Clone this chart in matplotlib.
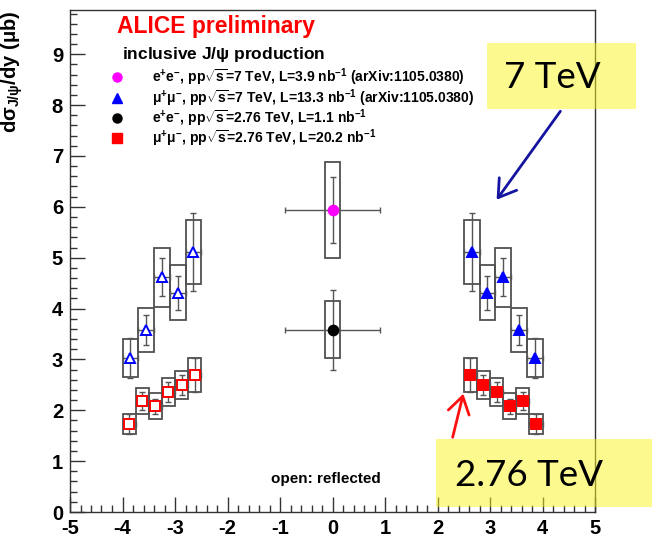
import matplotlib
matplotlib.use('Agg')
import matplotlib.pyplot as plt
from matplotlib.patches import Rectangle, FancyArrowPatch
from matplotlib.lines import Line2D
from matplotlib.ticker import MultipleLocator
import numpy as np

plt.rcParams['font.family'] = ['Liberation Sans', 'DejaVu Sans']
plt.rcParams['font.weight'] = 'bold'
plt.rcParams['axes.unicode_minus'] = False
plt.rcParams['mathtext.fontset'] = 'custom'
plt.rcParams['mathtext.rm'] = 'Liberation Sans:bold'
plt.rcParams['mathtext.it'] = 'Liberation Sans:bold'
plt.rcParams['mathtext.bf'] = 'Liberation Sans:bold'
plt.rcParams['mathtext.sf'] = 'Liberation Sans:bold'

# ---------------- data ----------------
# 7 TeV, mu+mu- (forward rapidity)
y7_mu = [2.65, 2.95, 3.25, 3.55, 3.85]
bw7_mu = 0.3
v7_mu = [5.11, 4.31, 4.62, 3.58, 3.03]
stat7_mu = [0.76, 0.33, 0.38, 0.30, 0.40]
sys7_mu = [0.63, 0.54, 0.58, 0.44, 0.38]

# 2.76 TeV, mu+mu- (forward rapidity)
y276_mu = [2.625, 2.875, 3.125, 3.375, 3.625, 3.875]
bw276_mu = 0.25
v276_mu = [2.69, 2.50, 2.36, 2.08, 2.18, 1.73]
stat276_mu = [0.33, 0.20, 0.19, 0.15, 0.17, 0.20]
sys276_mu = [0.33, 0.28, 0.28, 0.26, 0.26, 0.20]

# e+e- (mid rapidity)
y_ee = [0.0]
halfw_ee = 0.9
v7_ee = [5.94]
stat7_ee = [0.65]
sys7_ee = [0.95]
v276_ee = [3.58]
stat276_ee = [0.79]
sys276_ee = [0.56]

legend_labels = [
    r'e$^{+}$e$^{-}$, pp$\sqrt{s}$=7 TeV, L=3.9 nb$^{-1}$ (arXiv:1105.0380)',
    r'μ$^{+}$μ$^{-}$, pp$\sqrt{s}$=7 TeV, L=13.3 nb$^{-1}$ (arXiv:1105.0380)',
    r'e$^{+}$e$^{-}$, pp$\sqrt{s}$=2.76 TeV, L=1.1 nb$^{-1}$',
    r'μ$^{+}$μ$^{-}$, pp$\sqrt{s}$=2.76 TeV, L=20.2 nb$^{-1}$',
]

W, H = 652, 542
fig = plt.figure(figsize=(W / 100, H / 100), dpi=100)
ax = fig.add_axes([70 / W, 1 - 512 / H, (595 - 70) / W, (512 - 10) / H])

BOXC = '#505050'
ERRC = '#555555'


def draw(x, v, stat, sys, xerr, boxw, marker, color, filled, ms):
    x = np.asarray(x, float)
    v = np.asarray(v, float)
    stat = np.asarray(stat, float)
    sys = np.asarray(sys, float)
    for xi, vi, si in zip(x, v, sys):
        ax.add_patch(Rectangle((xi - boxw / 2, vi - si), boxw, 2 * si,
                               fill=False, ec=BOXC, lw=1.3, zorder=2))
    ax.errorbar(x, v, yerr=stat, xerr=xerr, fmt='none', ecolor=ERRC,
                elinewidth=1.0, capsize=2.2, capthick=1.0, zorder=3)
    ax.plot(x, v, ls='none', marker=marker, ms=ms,
            mfc=color if filled else 'white', mec=color,
            mew=1.4, zorder=4)


# forward (filled) and reflected (open)
draw(y7_mu, v7_mu, stat7_mu, sys7_mu, bw7_mu / 2, bw7_mu, '^', '#0000ff', True, 7.5)
draw(-np.asarray(y7_mu), v7_mu, stat7_mu, sys7_mu, bw7_mu / 2, bw7_mu, '^', '#0000ff', False, 7.5)
draw(y276_mu, v276_mu, stat276_mu, sys276_mu, bw276_mu / 2, bw276_mu, 's', '#ff0000', True, 6.5)
draw(-np.asarray(y276_mu), v276_mu, stat276_mu, sys276_mu, bw276_mu / 2, bw276_mu, 's', '#ff0000', False, 6.5)
draw(y_ee, v7_ee, stat7_ee, sys7_ee, halfw_ee, 0.3, 'o', '#ff00ff', True, 7)
draw(y_ee, v276_ee, stat276_ee, sys276_ee, halfw_ee, 0.3, 'o', 'black', True, 7)

ax.set_xlim(-5, 5)
ax.set_ylim(0, 9.87)
ax.xaxis.set_major_locator(MultipleLocator(1))
ax.xaxis.set_minor_locator(MultipleLocator(0.2))
ax.yaxis.set_major_locator(MultipleLocator(1))
ax.yaxis.set_minor_locator(MultipleLocator(0.2))
ax.tick_params(which='both', direction='in', top=False, right=False,
               labelsize=14.5, width=1, color='#333333')
ax.tick_params(which='major', length=11)
ax.tick_params(which='minor', length=5)
ax.tick_params(axis='x', pad=5)
ax.tick_params(axis='y', pad=5)
for lab in ax.get_xticklabels() + ax.get_yticklabels():
    lab.set_fontweight('bold')
for s in ax.spines.values():
    s.set_color('#333333')
    s.set_linewidth(1.0)

ax.set_ylabel(r'd$\sigma_{J/\psi}$/dy ($\mu$b)', fontsize=14.5, fontweight='bold', loc='top')
ax.yaxis.set_label_coords(-0.085, 1.0)


def fx(px):
    return px / W


def fy(py):
    return 1 - py / H


# header texts
fig.text(fx(117), fy(27), 'ALICE preliminary', color='#ff0000', fontsize=16.5,
         fontweight='bold', ha='left', va='center')
fig.text(fx(122), fy(55), r'inclusive J/$\psi$ production', color='black', fontsize=12.5,
         fontweight='bold', ha='left', va='center')

leg_styles = [('o', '#ff00ff'), ('^', '#0000ff'), ('o', 'black'), ('s', '#ff0000')]
rows = [77, 98, 118, 138]
for (mk, c), lab, ry in zip(leg_styles, legend_labels, rows):
    fig.add_artist(Line2D([fx(117)], [fy(ry)], ls='none', marker=mk, ms=6.5,
                          mfc=c, mec=c, transform=fig.transFigure))
    fig.text(fx(152), fy(ry), lab, fontsize=10, fontweight='bold', ha='left', va='center')

fig.text(fx(326), fy(479), 'open: reflected', fontsize=11, fontweight='bold',
         ha='center', va='center')

# yellow annotation boxes
yel = (0.98, 0.96, 0.12)
fig.add_artist(Rectangle((fx(487), fy(109)), (636 - 487) / W, (109 - 43) / H,
                         transform=fig.transFigure, facecolor=yel, alpha=0.5,
                         edgecolor='none', zorder=10))
fig.add_artist(Rectangle((fx(436), fy(507)), (652 - 436) / W, (507 - 439) / H,
                         transform=fig.transFigure, facecolor=yel, alpha=0.5,
                         edgecolor='none', zorder=10))
fig.text(fx(552), fy(78), '7 TeV', fontsize=26.5, family='Lato', fontweight='normal',
         ha='center', va='center', zorder=11)
fig.text(fx(529), fy(476), '2.76 TeV', fontsize=26.5, family='Lato', fontweight='normal',
         ha='center', va='center', zorder=11)

# arrows
fig.add_artist(FancyArrowPatch((fx(562), fy(109)), (fx(495), fy(202)),
                               transform=fig.transFigure, arrowstyle='->,head_length=0.55,head_width=0.35',
                               mutation_scale=22, lw=2, color='#1414a0', zorder=11))
fig.add_artist(FancyArrowPatch((fx(452), fy(440)), (fx(464), fy(391)),
                               transform=fig.transFigure, arrowstyle='->,head_length=0.55,head_width=0.35',
                               mutation_scale=22, lw=2, color='#ff1010', zorder=11))

fig.savefig('out.png', dpi=100)
